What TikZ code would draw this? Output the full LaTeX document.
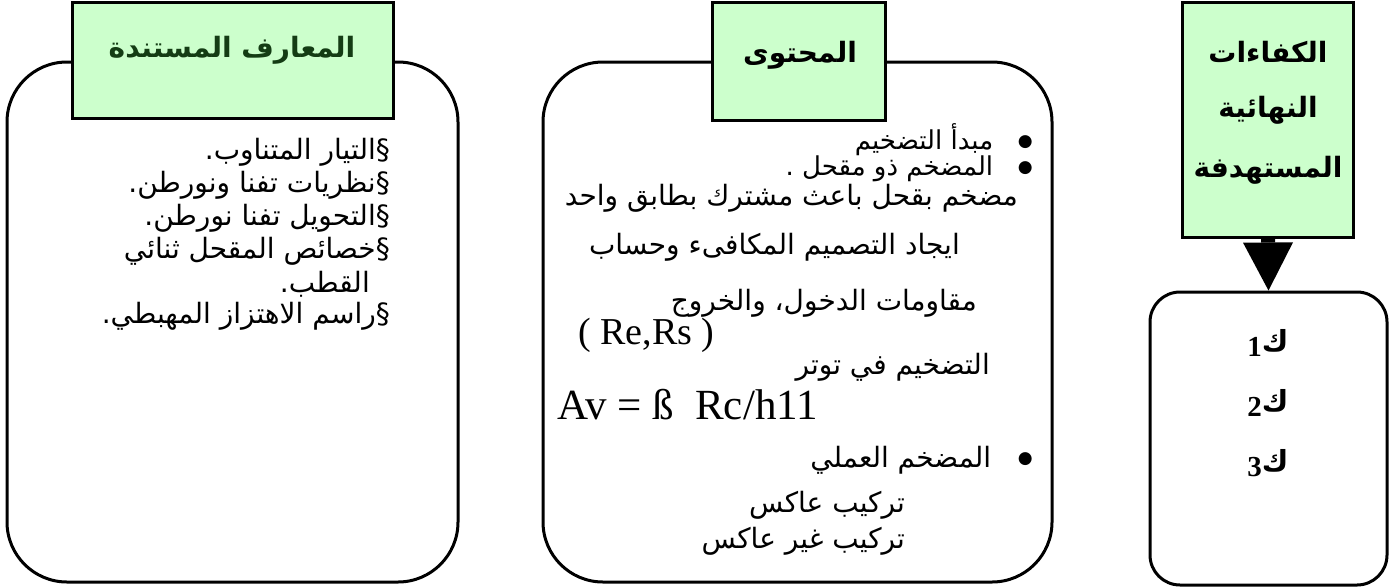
\documentclass[tikz,border=0pt]{standalone}
\usepackage{fontspec}
\usepackage{tikz}
\usetikzlibrary{arrows.meta}
\setmainfont{Liberation Serif}
\newfontfamily\arabicfont[Script=Arabic]{DejaVu Sans}
\TeXXeTstate=1

\definecolor{headfill}{RGB}{204,255,204}
\definecolor{headgreen}{RGB}{20,60,20}
\newcommand{\artext}[1]{\arabicfont\beginR #1\endR}
\newcommand{\dotmark}{\raisebox{0.25ex}{\fontsize{17}{20}\selectfont ●}\ \ \ }

\begin{document}
\begin{tikzpicture}[x=1pt,y=-1pt]

\tikzset{panel/.style = {draw, line width=3pt, rounded corners=60pt, fill=white}}
\tikzset{header/.style = {draw, line width=3pt, fill=headfill}}
\tikzset{headtext/.style = {inner sep=0pt, font=\fontsize{28}{32}\bfseries}}
\tikzset{item/.style = {anchor=east, inner sep=0pt, font=\fontsize{28}{32}\selectfont}}
\tikzset{latin/.style = {anchor=west, inner sep=0pt}}
\tikzset{kaf/.style = {inner sep=0pt, font=\fontsize{29}{32}\bfseries}}
\tikzset{goal/.style = {line width=14pt, -{Triangle[width=50pt,length=48pt,line width=0pt]}}}

\useasboundingbox (0,0) rectangle (1400,587);

% boxes
\node[panel, minimum width=451pt, minimum height=520pt] (knowbox) at (232.5,322) {};
\node[panel, minimum width=509pt, minimum height=520pt] (contbox) at (797.5,322) {};
\node[panel, rounded corners=30pt, minimum width=237pt, minimum height=293pt] (compbox) at (1268.5,438.5) {};

% headers
\node[header, minimum width=321pt, minimum height=116pt] (knowhead) at (232.5,60) {};
\node[header, minimum width=173pt, minimum height=118pt] (conthead) at (798.5,61) {};
\node[header, minimum width=171pt, minimum height=235pt] (comphead) at (1268,119.5) {};

\node[headtext, text=headgreen] (knowtitle) at (232,50) {\artext{المعارف المستندة}};
\node[headtext] (conttitle) at (800,55) {\artext{المحتوى}};
\node[headtext] (comptitle1) at (1268,52) {\artext{الكفاءات}};
\node[headtext] (comptitle2) at (1268,110) {\artext{النهائية}};
\node[headtext] (comptitle3) at (1268,170) {\artext{المستهدفة}};

% arrow
\draw[goal] (comphead.south) -- (compbox.north);

% left items
\node[item] (know1) at (390,152) {\artext{§التيار المتناوب.}};
\node[item] (know2) at (390,185) {\artext{§نظريات تفنا ونورطن.}};
\node[item] (know3) at (390,218) {\artext{§التحويل تفنا نورطن.}};
\node[item] (know4) at (390,251) {\artext{§خصائص المقحل ثنائي}};
\node[item] (know5) at (370,284) {\artext{القطب.}};
\node[item] (know6) at (390,316) {\artext{§راسم الاهتزاز المهبطي.}};

% middle items
\node[item, font=\fontsize{26}{30}\selectfont] (cont1) at (1033,140) {\artext{\dotmark مبدأ التضخيم}};
\node[item, font=\fontsize{26}{30}\selectfont] (cont2) at (1033,169) {\artext{\dotmark المضخم ذو مقحل .}};
\node[item] (cont3) at (1018,198) {\artext{مضخم بقحل باعث مشترك بطابق واحد}};
\node[item] (cont4) at (960,247) {\artext{ايجاد التصميم المكافىء وحساب}};
\node[item] (cont5) at (977,303) {\artext{مقاومات الدخول، والخروج}};
\node[latin, font=\fontsize{38}{42}\selectfont] (cont6) at (578,335) {( Re,Rs )};
\node[item] (cont7) at (990,367) {\artext{التضخيم في توتر}};
\node[latin, font=\fontsize{43}{47}\selectfont] (cont8) at (557,405) {Av = ß\ \ Rc/h11};
\node[item] (cont9) at (1033,460) {\artext{\dotmark المضخم العملي}};
\node[item] (cont10) at (905,505) {\artext{تركيب عاكس}};
\node[item] (cont11) at (905,541) {\artext{تركيب غير عاكس}};

% right items
\node[kaf] (kaf1) at (1268,343) {\artext{ك\raisebox{-0.35ex}{\rmfamily 1}}};
\node[kaf] (kaf2) at (1268,403) {\artext{ك\raisebox{-0.35ex}{\rmfamily 2}}};
\node[kaf] (kaf3) at (1268,463) {\artext{ك\raisebox{-0.35ex}{\rmfamily 3}}};

\end{tikzpicture}
\end{document}
